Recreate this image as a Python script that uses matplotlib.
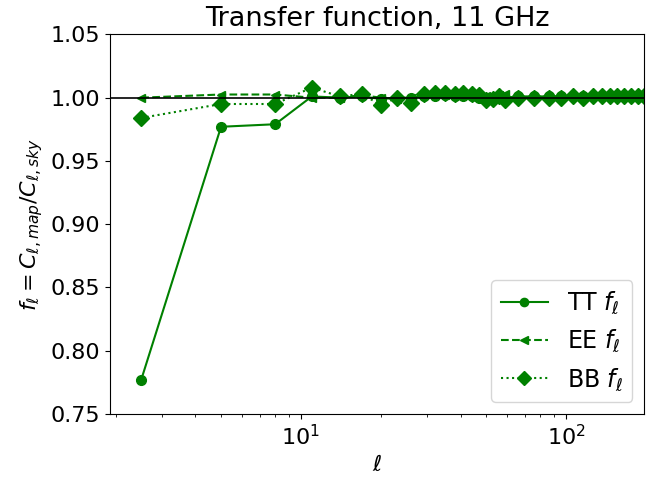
import matplotlib
matplotlib.use("Agg")
import matplotlib.pyplot as plt

ell_low = [2.5, 5, 8, 11, 14, 17, 20, 23, 26, 29, 32, 35, 38, 41, 44, 47, 50, 53, 56, 59]
ell_high = [66, 76, 86, 96, 106, 116, 126, 136, 146, 156, 166, 176, 186, 196]
ell = ell_low + ell_high

tt = [0.777, 0.977, 0.979, 1.001, 1.000, 1.001, 0.999, 1.000, 1.000, 1.001,
      1.001, 1.002, 1.001, 1.001, 1.001, 1.000, 1.000, 1.000, 1.001, 1.000,
      1.001, 1.001, 1.001, 1.001, 1.001, 1.001, 1.001, 1.001, 1.001, 1.001,
      1.001, 1.001, 1.001, 1.001]
ee_ell = ell_low
ee = [1.000, 1.0025, 1.0025, 1.000, 1.000, 1.002, 1.000, 0.999, 1.000, 1.002,
      1.003, 1.002, 1.002, 1.003, 1.002, 1.002, 1.001, 1.000, 1.002, 1.003]
bb = [0.984, 0.995, 0.995, 1.008, 1.001, 1.003, 0.994, 1.000, 0.996, 1.003,
      1.004, 1.004, 1.003, 1.004, 1.003, 1.002, 0.998, 0.999, 1.001, 0.998,
      1.000, 1.000, 1.000, 1.000, 1.001, 1.000, 1.001, 1.001, 1.001, 1.001,
      1.001, 1.001, 1.001, 1.001]

labels = [r'TT $f_\ell$', r'EE $f_\ell$', r'BB $f_\ell$']

fig = plt.figure(figsize=(6.56, 4.78), dpi=100)
ax = fig.add_axes([0.168, 0.134, 0.814, 0.794])
ax.plot(ell, tt, color='green', ls='-', marker='o', ms=7, label=labels[0])
ax.plot(ee_ell, ee, color='green', ls='--', marker='<', ms=6, label=labels[1])
ax.plot(ell, bb, color='green', ls=':', marker='D', ms=8, label=labels[2])
ax.axhline(1.0, color='black', lw=1.2, zorder=5)
ax.set_xscale('log')
ax.set_xlim(1.91, 197)
ax.set_ylim(0.75, 1.05)
ax.set_title('Transfer function, 11 GHz', fontsize=19.5)
ax.set_xlabel(r'$\ell$', fontsize=16)
ax.set_ylabel(r'$f_\ell = C_{\ell, map}/C_{\ell, sky}$', fontsize=16)
ax.tick_params(labelsize=16)
ax.legend(loc='lower right', fontsize=17, markerscale=0.85)
fig.savefig('out.png', dpi=100)
